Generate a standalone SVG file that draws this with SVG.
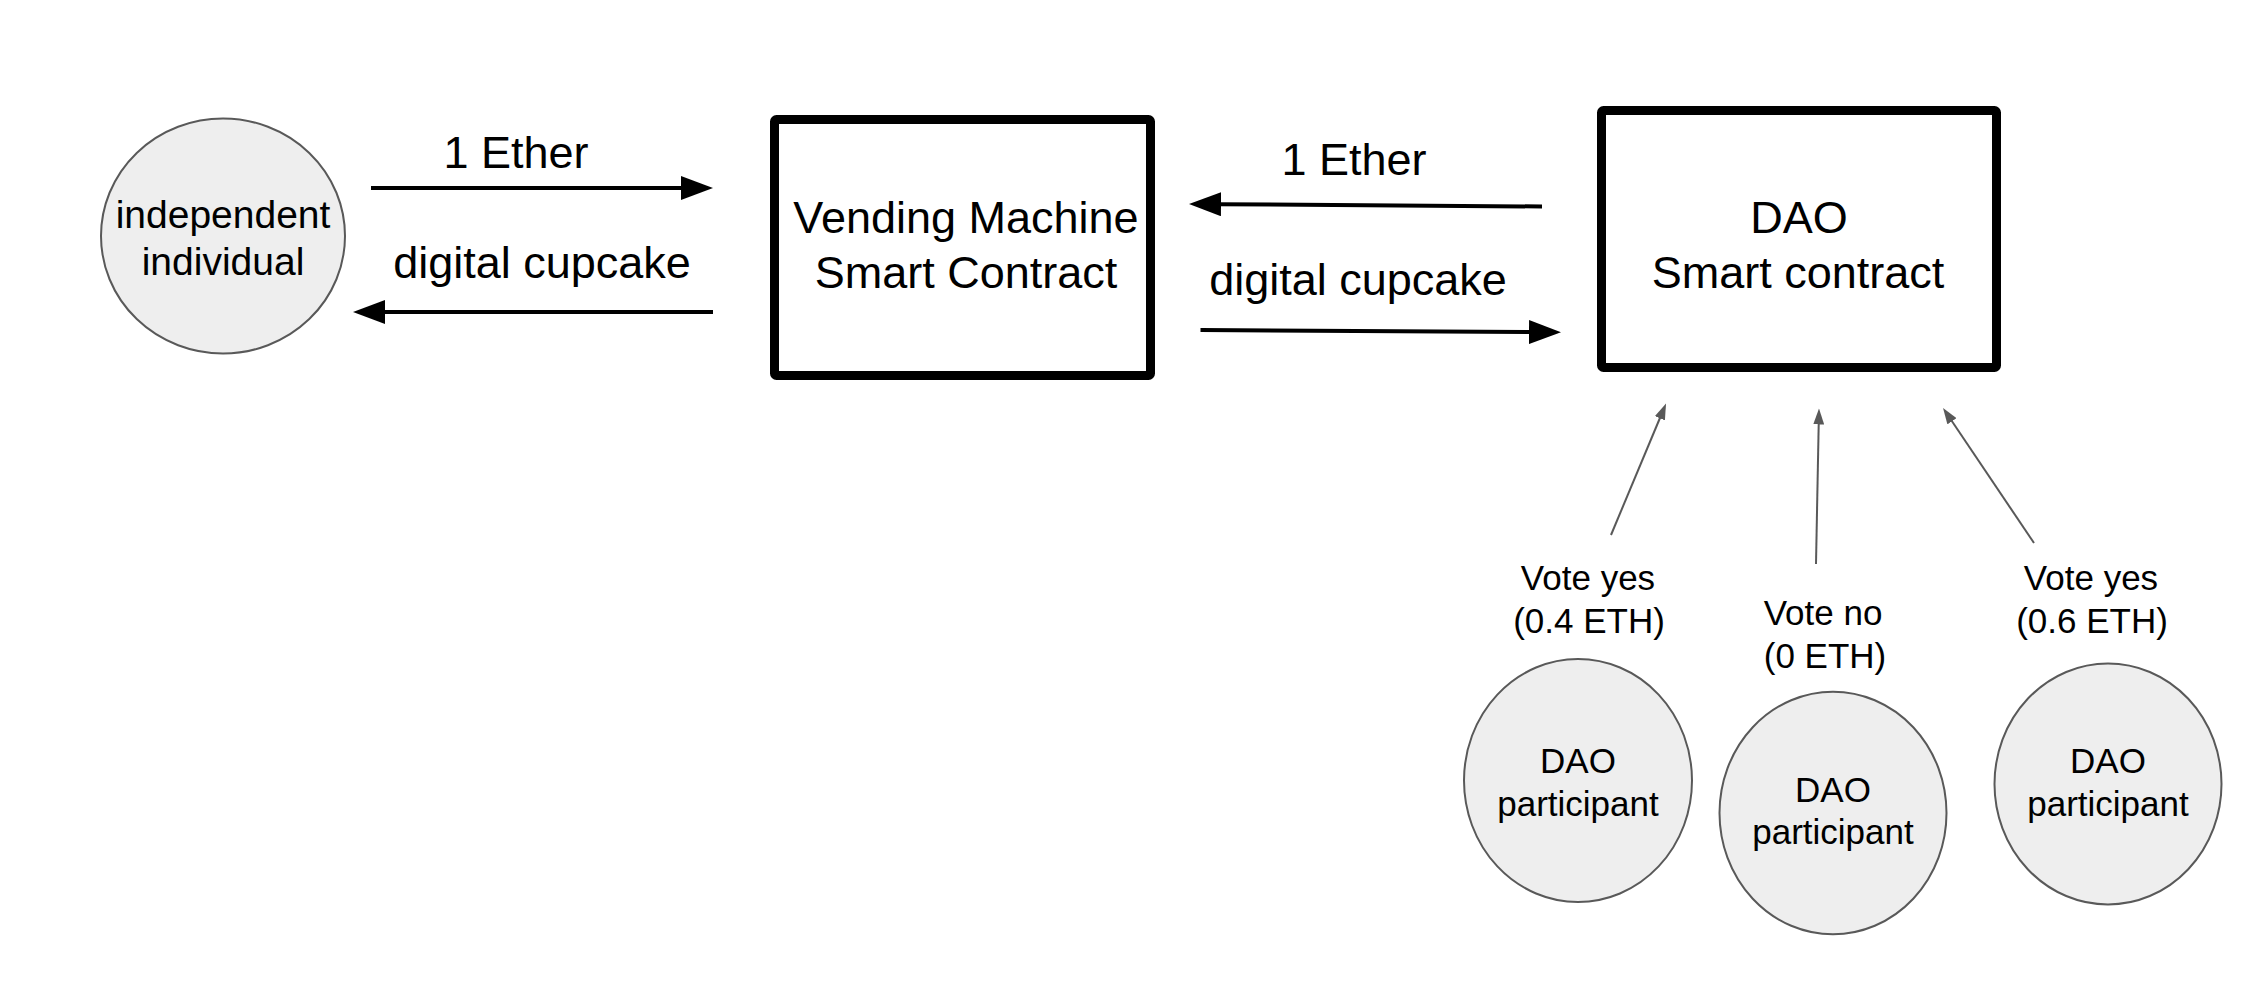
<svg xmlns="http://www.w3.org/2000/svg" width="2260" height="1000" viewBox="0 0 2260 1000">
<defs>
<style>
text{font-family:"Liberation Sans",Arial,sans-serif;fill:#000;text-anchor:middle}
.big{font-size:45px}
.mid{font-size:39px}
.sm{font-size:35px}
.circ{fill:#eeeeee;stroke:#595959;stroke-width:2}
.box{fill:#fff;stroke:#000;stroke-width:9}
.thick{stroke:#000;stroke-width:4;fill:none}
.thin{stroke:#595959;stroke-width:2;fill:none}
</style>
<marker id="ah" markerUnits="userSpaceOnUse" markerWidth="32" markerHeight="24" viewBox="0 0 32 24" refX="4" refY="12" orient="auto">
<path d="M0,0 L32,12 L0,24 Z" fill="#000"/>
</marker>
<marker id="ahs" markerUnits="userSpaceOnUse" markerWidth="16" markerHeight="11" viewBox="0 0 16 11" refX="3" refY="5.5" orient="auto">
<path d="M0,0 L16,5.5 L0,11 Z" fill="#595959"/>
</marker>
</defs>
<rect width="2260" height="1000" fill="#fff"/>
<g id="connectors">
<line class="thick" x1="371" y1="188" x2="685" y2="188" marker-end="url(#ah)"/>
<line class="thick" x1="713" y1="312" x2="381" y2="312" marker-end="url(#ah)"/>
<line class="thick" x1="1542" y1="206.5" x2="1217" y2="204.2" marker-end="url(#ah)"/>
<line class="thick" x1="1200.5" y1="330" x2="1533" y2="332.1" marker-end="url(#ah)"/>
<line class="thin" x1="1611" y1="535" x2="1661" y2="415.5" marker-end="url(#ahs)"/>
<line class="thin" x1="1816" y1="564" x2="1818.75" y2="421.5" marker-end="url(#ahs)"/>
<line class="thin" x1="2034" y1="543" x2="1950.3" y2="418.8" marker-end="url(#ahs)"/>
<text class="big" x="516" y="168">1 Ether</text>
<text class="big" x="542" y="278">digital cupcake</text>
<text class="big" x="1354" y="175">1 Ether</text>
<text class="big" x="1358" y="295">digital cupcake</text>
<text class="sm" x="1588" y="590">Vote yes</text>
<text class="sm" x="1589" y="633">(0.4 ETH)</text>
<text class="sm" x="1823" y="625">Vote no</text>
<text class="sm" x="1825" y="668">(0 ETH)</text>
<text class="sm" x="2091" y="590">Vote yes</text>
<text class="sm" x="2092" y="633">(0.6 ETH)</text>
</g>
<g id="individual">
<ellipse class="circ" cx="223" cy="236" rx="122" ry="117.5"/>
<text class="mid" x="223" y="228">independent</text>
<text class="mid" x="223" y="275">individual</text>
</g>
<g id="vending">
<rect class="box" x="774.5" y="119.5" width="376" height="256" rx="2"/>
<text class="big" x="966" y="233">Vending Machine</text>
<text class="big" x="966" y="288">Smart Contract</text>
</g>
<g id="dao">
<rect class="box" x="1601.5" y="110.5" width="395" height="257" rx="2"/>
<text class="big" x="1799" y="233">DAO</text>
<text class="big" x="1798" y="288">Smart contract</text>
</g>
<g id="participant1">
<ellipse class="circ" cx="1578" cy="780.5" rx="114" ry="121.5"/>
<text class="sm" x="1578" y="773">DAO</text>
<text class="sm" x="1578" y="816">participant</text>
</g>
<g id="participant2">
<ellipse class="circ" cx="1833" cy="813" rx="113.5" ry="121.3"/>
<text class="sm" x="1833" y="802">DAO</text>
<text class="sm" x="1833" y="844">participant</text>
</g>
<g id="participant3">
<ellipse class="circ" cx="2108" cy="784" rx="113.5" ry="120.5"/>
<text class="sm" x="2108" y="773">DAO</text>
<text class="sm" x="2108" y="816">participant</text>
</g>
</svg>
